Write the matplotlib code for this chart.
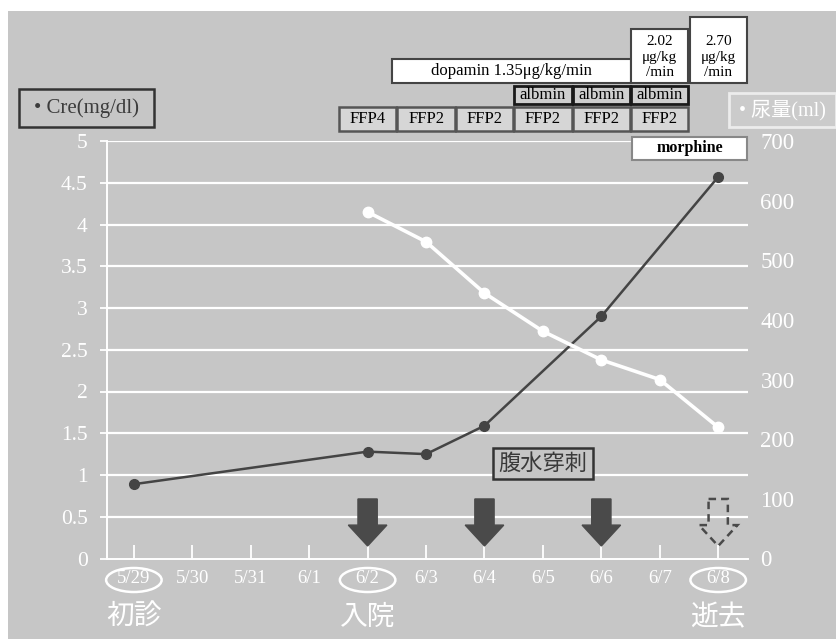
import matplotlib
matplotlib.use("Agg")
import matplotlib.pyplot as plt
import matplotlib.transforms as mtransforms
from matplotlib.patches import Rectangle, Ellipse, Polygon

# ---------------- data ----------------
dates = ['5/29', '5/30', '5/31', '6/1', '6/2', '6/3', '6/4', '6/5', '6/6', '6/7', '6/8']
cre_dates = ['5/29', '6/2', '6/3', '6/4', '6/6', '6/8']
cre_values = [0.89, 1.28, 1.25, 1.59, 2.90, 4.57]
urine_dates = ['6/2', '6/3', '6/4', '6/5', '6/6', '6/7', '6/8']
urine_values = [581, 531, 445, 381, 333, 300, 220]
left_ticks = [0, 0.5, 1, 1.5, 2, 2.5, 3, 3.5, 4, 4.5, 5]
left_ticklabels = ['0', '0.5', '1', '1.5', '2', '2.5', '3', '3.5', '4', '4.5', '5']
right_ticks = [0, 100, 200, 300, 400, 500, 600, 700]
ffp_dates = ['6/2', '6/3', '6/4', '6/5', '6/6', '6/7']
ffp_labels = ['FFP4', 'FFP2', 'FFP2', 'FFP2', 'FFP2', 'FFP2']
albmin_dates = ['6/5', '6/6', '6/7']
dopamin_span = ('6/3', '6/6')
dopamin_label = 'dopamin 1.35μg/kg/min'
dose_dates = ['6/7', '6/8']
dose_labels = ['2.02\nμg/kg\n/min', '2.70\nμg/kg\n/min']
morphine_span = ('6/7', '6/8')
tap_dates = ['6/2', '6/4', '6/6']
planned_tap_date = '6/8'
tap_label = '腹水穿刺'
tap_label_date = '6/5'
milestone_dates = ['5/29', '6/2', '6/8']
milestone_labels = ['初診', '入院', '逝去']

idx = {d: i for i, d in enumerate(dates)}

W, H = 836, 639
BG = '#c6c6c6'
DARK = '#444444'
SERIF = ['Liberation Serif', 'DejaVu Serif']
JP = ['Noto Sans CJK JP', 'DejaVu Sans']

fig = plt.figure(figsize=(W / 100, H / 100), dpi=100, facecolor=BG)


def fy(p):
    return 1 - p / H


def fx(p):
    return p / W


# white scan borders
fig.add_artist(Rectangle((0, fy(11)), 1, 11 / H, transform=fig.transFigure,
                         fc='white', ec='none', zorder=0))
fig.add_artist(Rectangle((0, 0), 8 / W, 1, transform=fig.transFigure,
                         fc='white', ec='none', zorder=0))

ax = fig.add_axes([fx(107), fy(558.5), fx(748) - fx(107), fy(141) - fy(558.5)])
ax.set_facecolor('none')
ax.set_xlim(-0.46, 10.51)
ax.set_ylim(0, 5)

# grid
for v in left_ticks[1:]:
    ax.axhline(v, color='white', lw=1.6, zorder=1)

for s in ['top', 'right']:
    ax.spines[s].set_visible(False)
for s in ['left', 'bottom']:
    ax.spines[s].set_color('white')
    ax.spines[s].set_linewidth(1.4)

ax.set_yticks(left_ticks)
ax.set_yticklabels(left_ticklabels, family=SERIF, fontsize=15.5, color='white')
ax.tick_params(axis='y', colors='white', length=5, width=1.3, pad=9, direction='out')
ax.set_xticks(range(len(dates)))
ax.set_xticklabels(dates, family=SERIF, fontsize=13.5, color='white')
ax.tick_params(axis='x', colors='white', length=10, width=1.3, pad=8, direction='in')

# Cre line
ax.plot([idx[d] for d in cre_dates], cre_values, color=DARK, lw=1.8,
        marker='o', ms=7, mfc=DARK, mec=DARK, zorder=4, clip_on=False)

# urine on secondary axis
ax2 = ax.twinx()
ax2.set_ylim(0, 700)
ax2.set_facecolor('none')
for s in ax2.spines.values():
    s.set_visible(False)
ax2.set_yticks(right_ticks)
ax2.set_yticklabels([str(t) for t in right_ticks], family=SERIF, fontsize=16.5, color='white')
ax2.tick_params(axis='y', length=0, pad=9)
ax2.plot([idx[d] for d in urine_dates], urine_values, color='white', lw=2.6,
         marker='o', ms=7.5, mfc='white', mec='white', zorder=4)

blend = mtransforms.blended_transform_factory(ax.transData, fig.transFigure)


def box(x0, x1, ytop, ybot, text, fc, ec, lw, fs, color='black', weight='normal',
        family=SERIF, ls=1.15, ty=None):
    ax.add_patch(Rectangle((x0, fy(ybot)), x1 - x0, fy(ytop) - fy(ybot), transform=blend,
                           fc=fc, ec=ec, lw=lw, clip_on=False, zorder=6))
    if ty is None:
        ty = (ytop + ybot) / 2
    ax.text((x0 + x1) / 2, fy(ty), text, transform=blend, ha='center', va='center',
            fontsize=fs, color=color, weight=weight, family=family,
            linespacing=ls, zorder=7, clip_on=False)


hw = 0.49
for d, lab in zip(ffp_dates, ffp_labels):
    i = idx[d]
    box(i - hw, i + hw, 107, 131, lab, '#d6d6d6', '#555555', 1.8, 12)
for d in albmin_dates:
    i = idx[d]
    box(i - hw, i + hw, 86, 104, 'albmin', '#cfcfcf', '#1a1a1a', 2.0, 12)
box(idx[dopamin_span[0]] - 0.59, idx[dopamin_span[1]] + 0.51, 59, 83, dopamin_label,
    'white', '#444444', 1.5, 12)
dose_tops = [29, 17]
for d, lab, top in zip(dose_dates, dose_labels, dose_tops):
    i = idx[d]
    box(i - hw, i + hw, top, 83, lab, 'white', '#444444', 1.5, 11, ty=57, ls=1.25)
box(idx[morphine_span[0]] - 0.47, idx[morphine_span[1]] + 0.5, 137, 160, 'morphine',
    'white', '#888888', 1.5, 11.5, weight='bold')

# abdominal tap label
i = idx[tap_label_date]
box(i - 0.86, i + 0.86, 448, 479, tap_label, BG, '#333333', 1.8, 16,
    color='#3a3a3a', family=JP)

# arrows
ys_top, ys_base, ys_tip = 0.713, 0.40, 0.15
sh, hh = 0.165, 0.33


def arrow_pts(c):
    return [(c - sh, ys_top), (c + sh, ys_top), (c + sh, ys_base), (c + hh, ys_base),
            (c, ys_tip), (c - hh, ys_base), (c - sh, ys_base)]


for d in tap_dates:
    ax.add_patch(Polygon(arrow_pts(idx[d]), closed=True, fc='#4a4a4a', ec='#4a4a4a',
                         lw=1, zorder=5))
ax.add_patch(Polygon(arrow_pts(idx[planned_tap_date]), closed=True, fc='none',
                     ec='#4a4a4a', lw=1.8, ls=(0, (3, 2)), zorder=5))

# ellipses and milestone labels
for d, lab in zip(milestone_dates, milestone_labels):
    i = idx[d]
    ax.add_patch(Ellipse((i, fy(580)), 0.95, 24 / H, transform=blend, fc='none',
                         ec='white', lw=1.8, clip_on=False, zorder=5))
    ax.text(i, fy(617), lab, transform=blend, ha='center', va='center', fontsize=20,
            color='white', family=JP, clip_on=False)

# legends
fig.add_artist(Rectangle((fx(19), fy(127)), fx(154) - fx(19), fy(89) - fy(127),
                         transform=fig.transFigure, fc=BG, ec='#333333', lw=1.8))
fig.text(fx(86), fy(108), '• Cre(mg/dl)', ha='center', va='center', fontsize=15,
         color='#3c3c3c', family=SERIF)
fig.add_artist(Rectangle((fx(729), fy(127)), fx(836) - fx(729), fy(93) - fy(127),
                         transform=fig.transFigure, fc='#cbcbcb', ec='#ececec', lw=2))
fig.text(fx(782), fy(110), '• 尿量(ml)', ha='center', va='center', fontsize=14.5,
         color='white', family=['Liberation Serif', 'Noto Sans CJK JP'])

fig.savefig('out.png', dpi=100, facecolor=BG)
